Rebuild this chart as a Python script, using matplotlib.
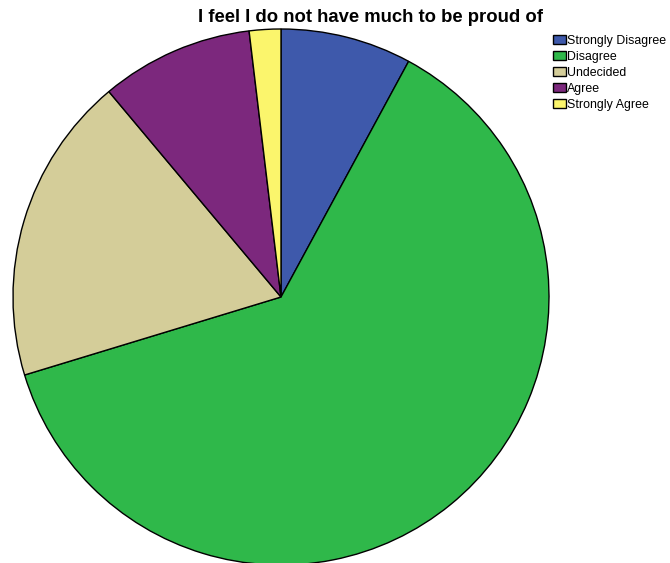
import matplotlib
matplotlib.use('Agg')
import matplotlib.pyplot as plt

labels = ['Strongly Disagree', 'Disagree', 'Undecided', 'Agree', 'Strongly Agree']
percent = [7.9, 62.4, 18.6, 9.2, 1.9]
colors = ['#3e59ab', '#2fb84a', '#d4cd99', '#7c287d', '#fbf56c']

plt.rcParams['font.family'] = ['Liberation Sans', 'DejaVu Sans']

W, H = 670, 563
fig = plt.figure(figsize=(W / 100, H / 100), dpi=100)
ax = fig.add_axes([0, 0, 1, 1])
ax.set_xlim(0, W)
ax.set_ylim(0, H)
ax.set_aspect('equal')
ax.axis('off')

wedges, _ = ax.pie(percent, colors=colors, startangle=90, counterclock=False,
                   center=(281, H - 297), radius=268,
                   wedgeprops=dict(edgecolor='black', linewidth=1.0))
ax.set_xlim(0, W)
ax.set_ylim(0, H)

fig.text(370 / W, 1 - 17 / H, 'I feel I do not have much to be proud of',
         ha='center', va='center', fontsize=13.3, fontweight='bold')

leg = fig.legend(wedges, labels, loc='upper left',
                 bbox_to_anchor=(553 / W, 1 - 35 / H), frameon=False,
                 fontsize=8.9, handlelength=1.05, handleheight=0.75,
                 handletextpad=0.12, labelspacing=0.32, borderpad=0,
                 borderaxespad=0)

fig.savefig('out.png', dpi=100)
